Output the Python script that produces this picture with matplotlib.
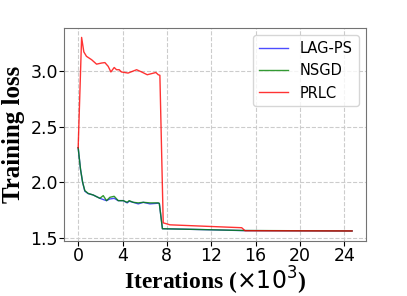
import matplotlib
matplotlib.use("Agg")
import matplotlib.pyplot as plt
import numpy as np

# iterations in thousands
lag_x = [0, 0.21, 0.4, 0.6, 0.9, 1.35, 1.96, 2.26, 2.56, 2.86, 3.25, 3.61, 4.06, 4.42, 4.6,
         4.96, 5.42, 5.87, 6.47, 7.22, 7.32, 7.6, 10.0, 15.0, 24.7]
lag_y = [2.31, 2.118, 2.0, 1.92, 1.898, 1.886, 1.856, 1.845, 1.835, 1.85, 1.856, 1.835, 1.835, 1.815, 1.83,
         1.82, 1.806, 1.82, 1.806, 1.812, 1.81, 1.583, 1.578, 1.566, 1.563]

nsgd_x = [0, 0.21, 0.4, 0.6, 0.9, 1.35, 1.96, 2.26, 2.56, 2.86, 3.25, 3.61, 4.06, 4.42, 4.6,
          4.96, 5.42, 5.87, 6.47, 7.22, 7.32, 7.6, 10.0, 15.0, 24.7]
nsgd_y = [2.31, 2.118, 2.0, 1.925, 1.90, 1.886, 1.856, 1.88, 1.835, 1.865, 1.874, 1.835, 1.835, 1.82, 1.835,
          1.82, 1.815, 1.82, 1.815, 1.815, 1.81, 1.583, 1.578, 1.567, 1.563]

prlc_x = [0, 0.31, 0.51, 0.75, 1.21, 1.66, 2.11, 2.41, 2.71, 2.95, 3.25, 3.46, 3.7, 3.9, 4.5,
          5.27, 5.72, 6.23, 7.01, 7.22, 7.37, 7.67, 8.28, 11.0, 14.75, 15.05, 24.7]
prlc_y = [2.31, 3.30, 3.17, 3.13, 3.10, 3.06, 3.07, 3.074, 3.04, 2.99, 3.03, 3.01, 3.01, 2.99, 2.98,
          3.01, 2.99, 2.965, 2.985, 2.965, 2.96, 1.636, 1.618, 1.607, 1.592, 1.565, 1.563]

xticks = [0, 4, 8, 12, 16, 20, 24]
yticks = [1.5, 2.0, 2.5, 3.0]

fig = plt.figure(figsize=(4.07, 2.96), dpi=100)
ax = fig.add_axes([0.158, 0.187, 0.741, 0.719])

ax.plot(lag_x, lag_y, color="blue", lw=1.0, alpha=0.7, label="LAG-PS")
ax.plot(nsgd_x, nsgd_y, color="green", lw=1.0, alpha=0.8, label="NSGD")
ax.plot(prlc_x, prlc_y, color="red", lw=1.0, alpha=0.8, label="PRLC")

ax.set_xlim(-1.25, 25.95)
ax.set_ylim(1.476, 3.386)
ax.set_xticks(xticks)
ax.set_yticks(yticks)
ax.tick_params(labelsize=12.5, pad=1)
ax.grid(True, linestyle="--", color="0.8", lw=0.8)
for s in ax.spines.values():
    s.set_color("0.45")

ax.set_xlabel(r"Iterations ($\times10^3$)", fontsize=17, fontweight="bold",
              family="Liberation Serif", labelpad=0)
ax.set_ylabel("Training loss", fontsize=18, fontweight="bold",
              family="Liberation Serif", labelpad=4)
ax.legend(loc="upper right", fontsize=10.5)

fig.savefig("out.png", dpi=100)
